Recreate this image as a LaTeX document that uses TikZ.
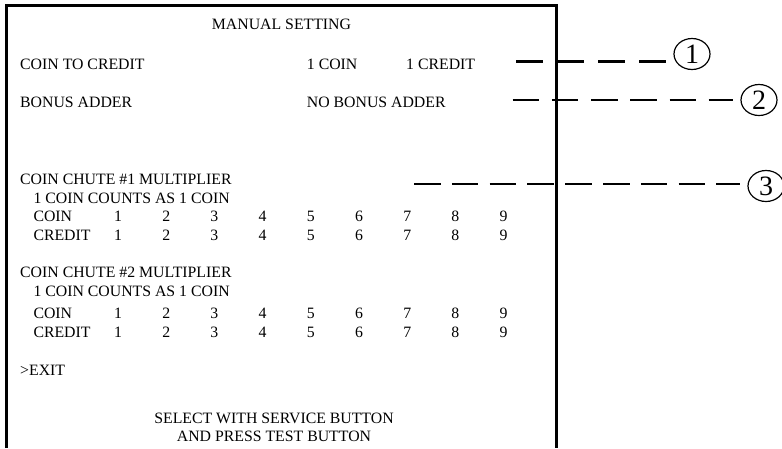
\documentclass[tikz,border=0pt]{standalone}
\usepackage{fontspec}
\setmainfont{Liberation Serif}
\usepackage{tikz}
\usetikzlibrary{shapes,arrows,positioning,calc}

\begin{document}
\begin{tikzpicture}[x=1pt,y=-1pt]
  % Define styles
  \tikzstyle{screen} = [line width=3pt]
  \tikzstyle{txt} = [anchor=base west, inner sep=0pt, font=\fontsize{15.8}{19}\selectfont]
  \tikzstyle{num} = [txt, anchor=base]
  \tikzstyle{marker} = [ellipse, draw, line width=1.2pt, minimum width=36pt, minimum height=31pt, inner sep=0pt, font=\fontsize{28}{28}\selectfont]
  \tikzset{leader/.style={line width=2.6pt, dash pattern=on 26.5pt off #1, shorten >=7pt}}

  \useasboundingbox (0,0) rectangle (782,448);

  % Screen outline (runs off the bottom)
  \draw [screen] (6.7,448) -- (6.7,5.3) -- (556,5.3) -- (556,448);

  % Menu text
  \node [num] (title) at (281.5,29.3) {MANUAL SETTING};
  \node [txt] (cointocredit) at (20,69.3) {COIN TO CREDIT};
  \node [txt] (onecoin) at (306.7,69.3) {1 COIN};
  \node [txt] (onecredit) at (406,69.3) {1 CREDIT};
  \node [txt] (bonus) at (20,107.7) {BONUS ADDER};
  \node [txt] (nobonus) at (306.7,107.7) {NO BONUS ADDER};

  \node [txt] (chuteA) at (20,184.3) {COIN CHUTE \#1 MULTIPLIER};
  \node [txt] (countsA) at (33.3,203.3) {1 COIN COUNTS AS 1 COIN};
  \node [txt] (coinA) at (33.3,221.5) {COIN};
  \node [txt] (creditA) at (33.3,240.5) {CREDIT};

  \node [txt] (chuteB) at (20,277) {COIN CHUTE \#2 MULTIPLIER};
  \node [txt] (countsB) at (33.3,296.7) {1 COIN COUNTS AS 1 COIN};
  \node [txt] (coinB) at (33.3,318.2) {COIN};
  \node [txt] (creditB) at (33.3,337) {CREDIT};

  % Multiplier columns 1..9
  \foreach \blk/\ya/\yb in {A/221.5/240.5, B/318.2/337} {
    \foreach \n in {1,...,9} {
      \node [num] (coin\blk\n) at ({118+48.2*(\n-1)},\ya) {\n};
      \node [num] (credit\blk\n) at ({118+48.2*(\n-1)},\yb) {\n};
    }
  }

  \node [txt] (exit) at (20,375.3) {>EXIT};
  \node [num] (select) at (274,423) {SELECT WITH SERVICE BUTTON};
  \node [num] (press) at (274,441.3) {AND PRESS TEST BUTTON};

  % Callout markers
  \node [marker] (m1) at (692,54) {1};
  \node [marker] (m2) at (759,100) {2};
  \node [marker] (m3) at (766,186) {3};

  % Leader lines
  \coordinate (l1) at (516,61.7);
  \coordinate (l2) at (512.7,100);
  \coordinate (l3) at (414,184);
  \draw [leader=14.5pt] (l1) -- (l1 -| m1.west);
  \draw [leader=12.7pt] (l2) -- (l2 -| m2.west);
  \draw [leader=11.3pt] (l3) -- (l3 -| m3.west);

\end{tikzpicture}
\end{document}
